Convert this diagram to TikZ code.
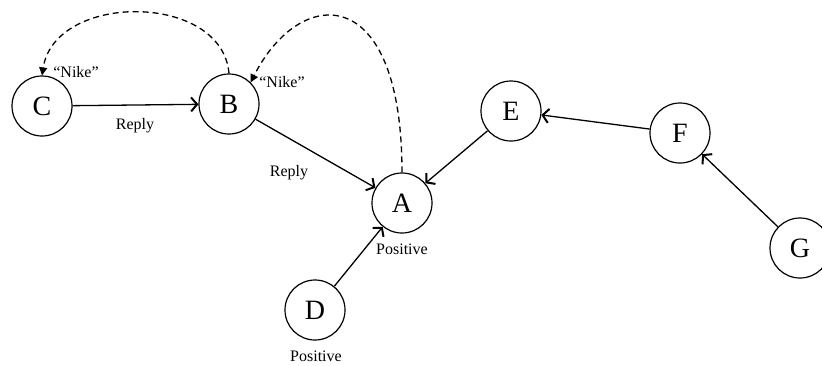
\documentclass[tikz,border=0pt]{standalone}
\usepackage{fontspec}
\setmainfont{Liberation Serif}
\usetikzlibrary{arrows.meta}
\begin{document}
\begin{tikzpicture}[x=1pt,y=-1pt,
  vertex/.style={draw,circle,line width=1.2pt,minimum size=60pt,inner sep=0pt,font=\fontsize{28}{30}\selectfont},
  lbl/.style={font=\fontsize{16}{18}\selectfont,inner sep=0pt},
  edge/.style={line width=1.3pt,-{Straight Barb[length=6pt,width=14pt,line width=2pt]}},
  quote/.style={line width=1.3pt,dashed,dash pattern=on 6pt off 4pt,-{Triangle[length=8pt,width=8pt]}}]
\useasboundingbox (0,0) rectangle (822,365);
\begin{scope}
\clip (0,0) rectangle (822,365);
\node[vertex] (C) at (42,106) {C};
\node[vertex] (B) at (229,104) {B};
\node[vertex] (A) at (402,203) {A};
\node[vertex] (D) at (315,310) {D};
\node[vertex] (E) at (511,111) {E};
\node[vertex] (F) at (680,133) {F};
\node[vertex] (G) at (800,248) {G};
\end{scope}

\node[lbl] (nikeC) at (76,72) {“Nike”};
\node[lbl] (nikeB) at (282,82) {“Nike”};
\node[lbl] (replyCB) at (135,126) {Reply};
\node[lbl] (replyBA) at (289,173) {Reply};
\node[lbl] (posA) at (402,249) {Positive};
\node[lbl] (posD) at (316,356) {Positive};

\draw[edge] (C) -- (B);
\draw[edge] (B) -- (A);
\draw[edge] (D) -- (A);
\draw[edge] (E) -- (A);
\draw[edge] (F) -- (E);
\draw[edge] (G) -- (F);

\draw[quote] (B.north) .. controls (222,-8) and (55,-8) .. (C.north);
\draw[quote] (A.north) .. controls (402,-20) and (300,-15) .. (B.north east);
\end{tikzpicture}
\end{document}
